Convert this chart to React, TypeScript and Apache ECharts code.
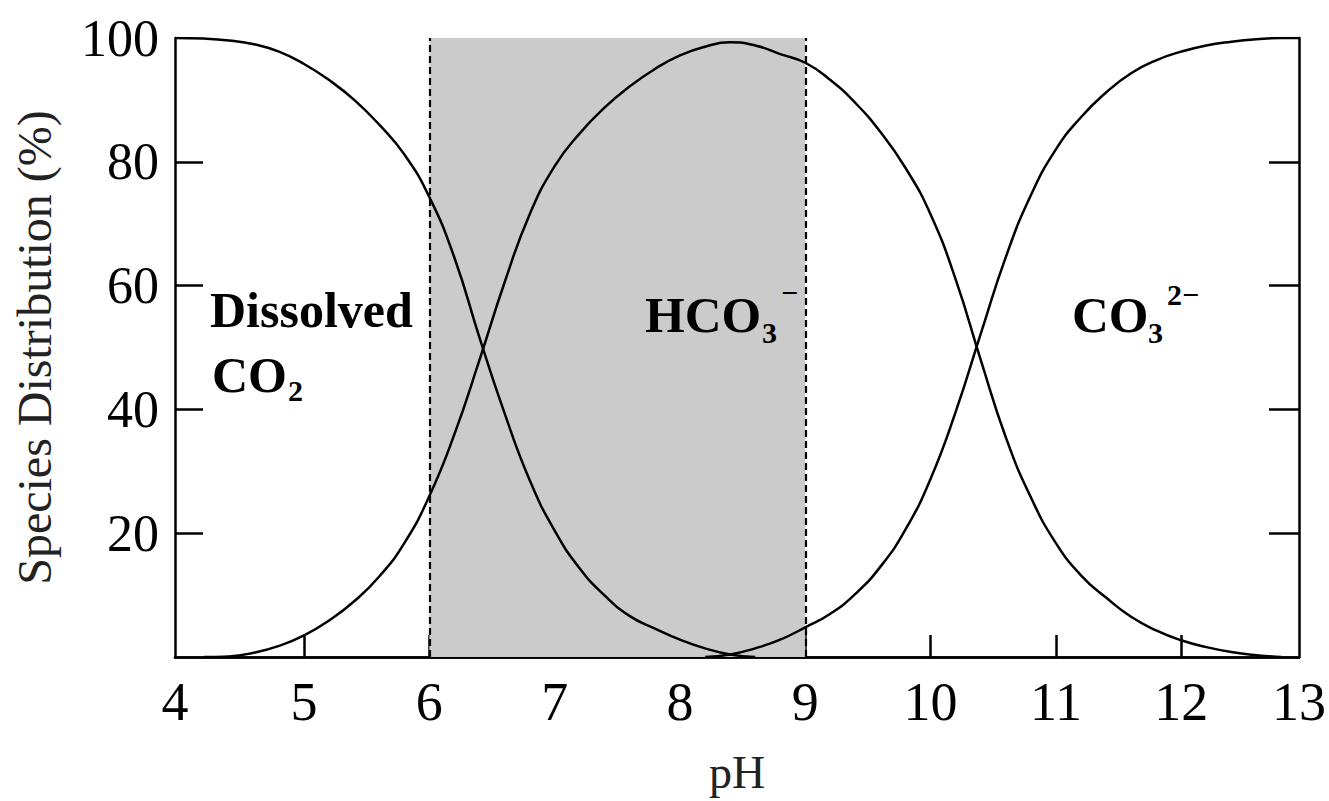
import React, { useEffect, useRef } from "react";
import * as echarts from "echarts";

// pH readings and species fractions (%) along each curve
const phCO2 = [3.97, 4.2, 4.4, 4.6, 4.8, 5.0, 5.2, 5.4, 5.6, 5.8, 6.0, 6.2, 6.4, 6.6, 6.8, 7.0, 7.2, 7.4, 7.6, 7.8, 8.0, 8.2, 8.4, 8.6];
const co2 = [100, 99.9, 99.6, 99.0, 97.8, 95.8, 93.2, 90.0, 86.0, 81.2, 74.3, 64.5, 51.6, 39.4, 28.6, 20.4, 14.3, 9.9, 6.6, 4.6, 2.8, 1.4, 0.4, 0];

const phHCO3 = [4.2, 4.4, 4.6, 4.8, 5.0, 5.2, 5.4, 5.6, 5.8, 6.0, 6.2, 6.4, 6.6, 6.8, 7.0, 7.2, 7.4, 7.6, 7.8, 8.0, 8.2, 8.4, 8.6, 8.8, 9.0, 9.2, 9.4, 9.6, 9.8, 10.0, 10.2, 10.4, 10.6, 10.8, 11.0, 11.2, 11.4, 11.6, 11.8, 12.0, 12.2, 12.4, 12.6, 12.8];
const hco3 = [0, 0.1, 0.7, 1.8, 3.5, 5.9, 9.0, 13.0, 18.4, 26.0, 36.0, 48.0, 60.5, 71.5, 79.3, 84.6, 88.8, 92.2, 95.0, 97.2, 98.6, 99.3, 98.8, 97.4, 96.0, 93.2, 89.5, 84.8, 79.0, 71.5, 61.0, 48.0, 35.5, 25.8, 18.4, 13.2, 9.6, 6.5, 4.3, 2.7, 1.6, 0.8, 0.3, 0];

const phCO3 = [8.2, 8.4, 8.6, 8.8, 9.0, 9.2, 9.4, 9.6, 9.8, 10.0, 10.2, 10.4, 10.6, 10.8, 11.0, 11.2, 11.4, 11.6, 11.8, 12.0, 12.2, 12.4, 12.6, 12.8, 12.94];
const co3 = [0, 0.4, 1.4, 2.8, 4.8, 7.0, 10.2, 14.6, 20.6, 28.8, 39.6, 52.2, 64.6, 74.6, 82.0, 87.2, 91.2, 94.3, 96.4, 97.8, 98.8, 99.4, 99.8, 100, 100];

// axis range and ticks
const phMin = 3.97;
const phMax = 12.94;
const phTicks = [5, 6, 7, 8, 9, 10, 11, 12];
const phLabelAt = [phMin, ...phTicks, phMax];
const pctTicks = [20, 40, 60, 80];
const pctLabels = [20, 40, 60, 80, 100];

// shaded working range
const bandFrom = 6;
const bandTo = 9;

const pairs = (xs: number[], ys: number[]) => xs.map((x, i) => [x, ys[i]]);

const SERIF = "'Liberation Serif', 'Times New Roman', serif";
const axisLine = { show: true, lineStyle: { color: "#000", width: 2.5 } };

export default function App() {
  const ref = useRef<HTMLDivElement>(null);

  useEffect(() => {
    if (!ref.current) return;
    const chart = echarts.init(ref.current, null, { renderer: "svg" });

    const curve = (name: string, data: number[][], extra: any = {}) => ({
      name,
      type: "line",
      data,
      showSymbol: false,
      smooth: 0.5,
      lineStyle: { color: "#000", width: 2.5 },
      z: 3,
      ...extra,
    });

    const boldFont = (size: number) => `bold ${size}px ${SERIF}`;
    const label = (text: string, x: number, y: number, size: number) => ({
      type: "text",
      x,
      y,
      z: 10,
      style: {
        text,
        font: boldFont(size),
        fill: "#000",
        textAlign: "left",
        textVerticalAlign: "middle",
        align: "left",
        verticalAlign: "middle",
      },
    });

    chart.setOption({
      animation: false,
      backgroundColor: "#fff",
      grid: { left: 175, right: 27, top: 38, bottom: 144, containLabel: false },
      xAxis: [
        {
          type: "value",
          min: phMin,
          max: phMax,
          position: "bottom",
          axisLine,
          axisTick: {
            show: true,
            inside: true,
            length: 22,
            customValues: phTicks,
            lineStyle: { color: "#000", width: 2.5 },
          },
          axisLabel: {
            customValues: phLabelAt,
            formatter: (v: number) => String(Math.round(v)),
            fontSize: 54,
            fontFamily: SERIF,
            color: "#000",
            margin: 18,
          },
          splitLine: { show: false },
          name: "pH",
          nameLocation: "middle",
          nameGap: 92,
          nameTextStyle: { fontSize: 46, fontFamily: SERIF, color: "#222" },
        },
        {
          type: "value",
          min: phMin,
          max: phMax,
          position: "top",
          axisLine,
          axisTick: { show: false },
          axisLabel: { show: false },
          splitLine: { show: false },
        },
      ],
      yAxis: [
        {
          type: "value",
          min: 0,
          max: 100,
          interval: 20,
          position: "left",
          axisLine,
          axisTick: {
            show: true,
            inside: true,
            length: 28,
            customValues: pctTicks,
            lineStyle: { color: "#000", width: 2.5 },
          },
          axisLabel: {
            customValues: pctLabels,
            fontSize: 52,
            fontFamily: SERIF,
            color: "#000",
            margin: 16,
          },
          splitLine: { show: false },
          name: "Species Distribution (%)",
          nameLocation: "middle",
          nameRotate: 90,
          nameGap: 117,
          nameTextStyle: { fontSize: 48, fontFamily: SERIF, color: "#222" },
        },
        {
          type: "value",
          min: 0,
          max: 100,
          interval: 20,
          position: "right",
          axisLine,
          axisTick: {
            show: true,
            inside: true,
            length: 30,
            customValues: pctTicks,
            lineStyle: { color: "#000", width: 2.5 },
          },
          axisLabel: { show: false },
          splitLine: { show: false },
        },
      ],
      series: [
        curve("Dissolved CO2", pairs(phCO2, co2), {
          markArea: {
            silent: true,
            itemStyle: { color: "#cbcbcb" },
            data: [[{ xAxis: bandFrom }, { xAxis: bandTo }]],
          },
          markLine: {
            silent: true,
            symbol: "none",
            label: { show: false },
            lineStyle: { color: "#000", width: 2.2, type: [7, 4] },
            data: [{ xAxis: bandFrom }, { xAxis: bandTo }],
          },
        }),
        curve("HCO3-", pairs(phHCO3, hco3)),
        curve("CO3 2-", pairs(phCO3, co3)),
      ],
      graphic: [
        label("Dissolved", 210, 310, 50),
        label("CO", 212, 375, 50),
        label("2", 288, 390, 30),
        label("HCO", 645, 315, 51),
        label("3", 762, 332, 30),
        label("\u2212", 781, 292, 30),
        label("CO", 1072, 315, 51),
        label("3", 1148, 332, 30),
        label("2\u2212", 1167, 294, 30),
      ],
    });

    return () => chart.dispose();
  }, []);

  return (
    <div
      ref={ref}
      style={{ position: "fixed", left: 0, top: 0, width: 1329, height: 801, background: "#fff" }}
    />
  );
}
